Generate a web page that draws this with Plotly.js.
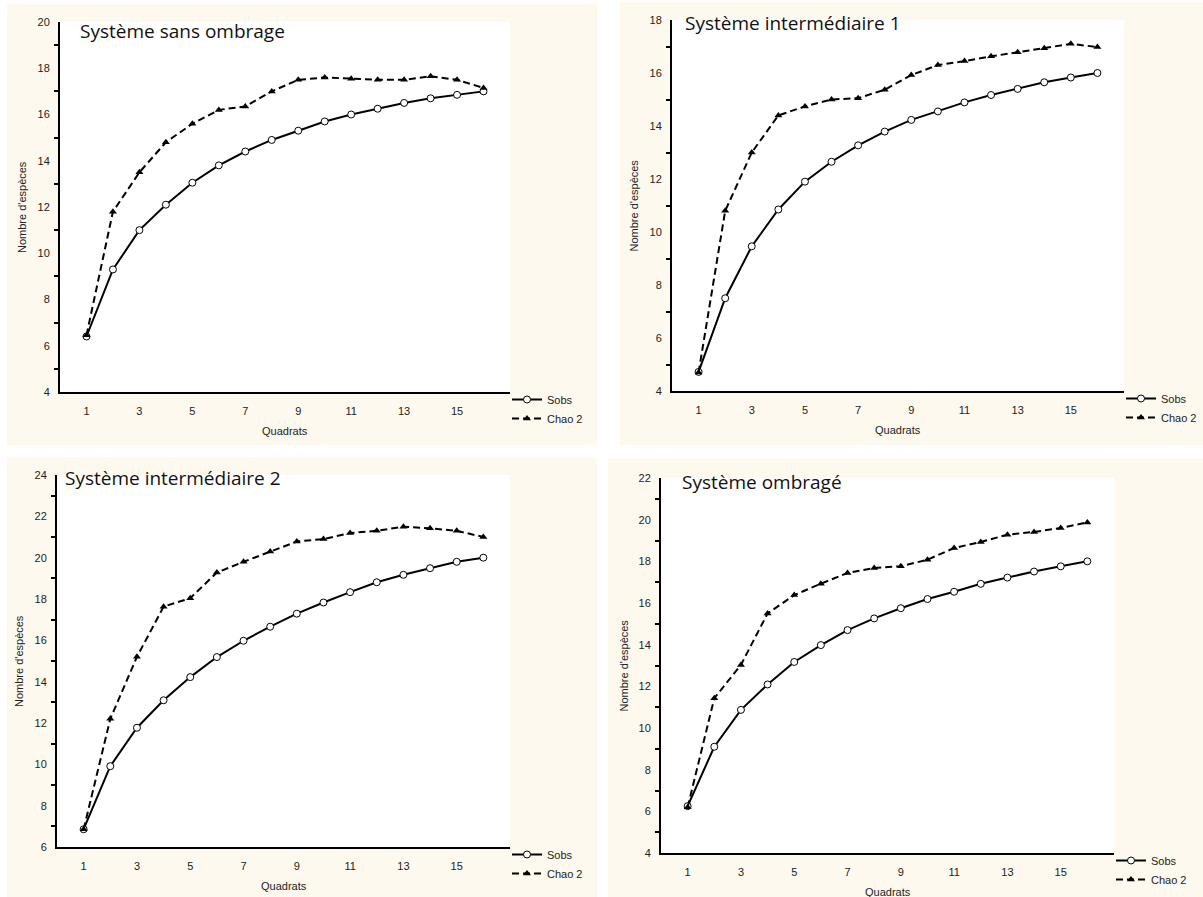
<!DOCTYPE html>
<html>
<head>
<meta charset="utf-8">
<script src="https://cdn.plot.ly/plotly-3.0.1.min.js"></script>
<style>html,body{margin:0;padding:0;background:#fff;}#chart{width:1203px;height:897px;}</style>
</head>
<body>
<div id="chart"></div>
<script>
// ---------- data ----------
const quadrats = [1, 2, 3, 4, 5, 6, 7, 8, 9, 10, 11, 12, 13, 14, 15, 16];
const xTickVals = [1, 3, 5, 7, 9, 11, 13, 15];
const seriesNames = ["Sobs", "Chao 2"];
const panelTitles = ["Système sans ombrage", "Système intermédiaire 1", "Système intermédiaire 2", "Système ombragé"];
const xAxisTitle = "Quadrats";
const yAxisTitle = "Nombre d'espèces";

const sobs1  = [6.4, 9.3, 11.0, 12.1, 13.05, 13.8, 14.4, 14.9, 15.3, 15.7, 16.0, 16.25, 16.5, 16.7, 16.85, 17.0];
const chao1  = [6.45, 11.8, 13.5, 14.8, 15.6, 16.2, 16.35, 17.0, 17.5, 17.6, 17.55, 17.5, 17.5, 17.65, 17.5, 17.15];
const sobs2  = [4.72, 7.5, 9.46, 10.85, 11.9, 12.65, 13.27, 13.79, 14.23, 14.55, 14.89, 15.17, 15.4, 15.65, 15.83, 16.0];
const chao2  = [4.7, 10.8, 13.0, 14.4, 14.74, 15.0, 15.05, 15.37, 15.92, 16.3, 16.45, 16.63, 16.78, 16.93, 17.1, 16.98];
const sobs3  = [6.86, 9.91, 11.77, 13.1, 14.22, 15.19, 15.98, 16.66, 17.29, 17.83, 18.33, 18.81, 19.17, 19.49, 19.8, 20.0];
const chao3  = [6.86, 12.2, 15.2, 17.63, 18.04, 19.28, 19.8, 20.3, 20.78, 20.9, 21.19, 21.3, 21.5, 21.42, 21.3, 21.0];
const sobs4  = [6.25, 9.1, 10.87, 12.09, 13.17, 13.98, 14.7, 15.26, 15.75, 16.19, 16.54, 16.92, 17.22, 17.51, 17.76, 18.0];
const chao4  = [6.2, 11.43, 13.03, 15.5, 16.38, 16.93, 17.44, 17.68, 17.76, 18.08, 18.64, 18.93, 19.28, 19.41, 19.6, 19.87];

const sobsAll = [sobs1, sobs2, sobs3, sobs4];
const chaoAll = [chao1, chao2, chao3, chao4];
const yRanges = [[4, 20], [4, 18], [6, 24], [4, 22]];

// ---------- layout geometry (pixels) ----------
const W = 1203, H = 897;
const plotBoxes = [ // [left, top, right, bottom]
  [60, 22, 510, 392],
  [672, 20, 1124, 391],
  [57, 475, 510, 847],
  [661, 478, 1114, 853]
];
const creamBoxes = [
  [7, 4, 597, 445],
  [620, 2, 1203, 445],
  [7, 457, 597, 897],
  [608, 458, 1203, 897]
];
const cream = "#fef9ee";
const px = v => v / W;
const py = v => 1 - v / H;

const traces = [];
const layout = {
  width: W, height: H,
  margin: {l: 0, r: 0, t: 0, b: 0},
  paper_bgcolor: "#ffffff",
  plot_bgcolor: "#ffffff",
  font: {family: "Liberation Sans, Arial, sans-serif", size: 11, color: "#222"},
  showlegend: true,
  shapes: [],
  annotations: []
};

for (let i = 0; i < 4; i++) {
  const k = i === 0 ? "" : String(i + 1);
  const xa = "x" + k, ya = "y" + k;
  const leg = i === 0 ? "legend" : "legend" + (i + 1);
  const b = plotBoxes[i];
  const c = creamBoxes[i];

  traces.push({
    x: quadrats, y: sobsAll[i], xaxis: xa, yaxis: ya, legend: leg,
    name: seriesNames[0], type: "scatter", mode: "lines+markers",
    line: {color: "#000", width: 2},
    marker: {symbol: "circle", size: 7, color: "#fff", line: {color: "#000", width: 1}},
    cliponaxis: false
  });
  traces.push({
    x: quadrats, y: chaoAll[i], xaxis: xa, yaxis: ya, legend: leg,
    name: seriesNames[1], type: "scatter", mode: "lines+markers",
    line: {color: "#000", width: 2, dash: "7px,4px"},
    marker: {symbol: "triangle-up", size: 7, color: "#000"},
    cliponaxis: false
  });

  layout["xaxis" + k] = {
    domain: [px(b[0]), px(b[2])], anchor: ya,
    range: [0, 17], tickvals: xTickVals, ticks: "",
    showline: true, linecolor: "#000", linewidth: 2,
    showgrid: false, zeroline: false, fixedrange: true,
    ticklabelstandoff: 8,
    tickfont: {family: "Liberation Sans, Arial, sans-serif", size: 11, color: "#222"}
  };
  layout["yaxis" + k] = {
    domain: [py(b[3]), py(b[1])], anchor: xa,
    range: yRanges[i], dtick: 2, tick0: 0, ticks: "",
    minor: {tick0: 1, dtick: 2, ticks: "outside", ticklen: 4, tickwidth: 2, tickcolor: "#000", showgrid: false},
    showline: true, linecolor: "#000", linewidth: 2,
    showgrid: false, zeroline: false, fixedrange: true,
    ticklabelstandoff: 6,
    tickfont: {family: "Liberation Sans, Arial, sans-serif", size: 11, color: "#222"}
  };

  layout[leg] = {
    x: px(b[2] - 3), y: py(b[3] - 7), xanchor: "left", yanchor: "top",
    bgcolor: "rgba(0,0,0,0)", borderwidth: 0,
    itemwidth: 30, tracegroupgap: 0,
    font: {family: "Liberation Sans, Arial, sans-serif", size: 11, color: "#222"}
  };

  layout.shapes.push({
    type: "rect", xref: "paper", yref: "paper", layer: "below",
    x0: px(c[0]), x1: px(c[2]), y0: py(c[3]), y1: py(c[1]),
    fillcolor: cream, line: {width: 0}
  });
  layout.shapes.push({
    type: "rect", xref: xa + " domain", yref: ya + " domain", layer: "below",
    x0: 0, x1: 1, y0: 0, y1: 1, fillcolor: "#ffffff", line: {width: 0}
  });

  const titlePos = [[78, 31], [683, 23], [63, 478], [680, 482]][i];
  layout.annotations.push({
    text: panelTitles[i], xref: "paper", yref: "paper",
    x: px(titlePos[0]), y: py(titlePos[1]), xanchor: "left", yanchor: "middle",
    showarrow: false,
    font: {family: "Open Sans, sans-serif", size: 19, color: "#111"}
  });
  layout.annotations.push({
    text: yAxisTitle, xref: "paper", yref: "paper",
    x: px(b[0] - 38), y: py((b[1] + b[3]) / 2), xanchor: "center", yanchor: "middle",
    textangle: -90, showarrow: false,
    font: {family: "Liberation Sans, Arial, sans-serif", size: 11, color: "#222"}
  });
  layout.annotations.push({
    text: xAxisTitle, xref: "paper", yref: "paper",
    x: px((b[0] + b[2]) / 2), y: py(b[3] + 39), xanchor: "center", yanchor: "middle",
    showarrow: false,
    font: {family: "Liberation Sans, Arial, sans-serif", size: 11, color: "#222"}
  });
}

Plotly.newPlot("chart", traces, layout, {displayModeBar: false, staticPlot: true});
</script>
</body>
</html>
